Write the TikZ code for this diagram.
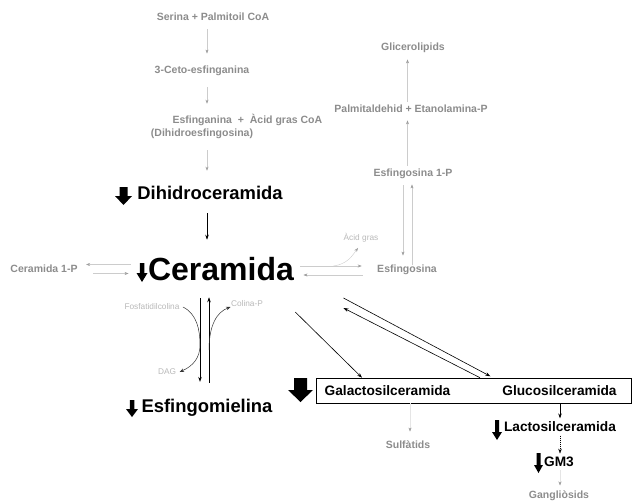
\documentclass[tikz,border=0pt]{standalone}
\usepackage{fontspec}
\setmainfont{Liberation Sans}
\usetikzlibrary{arrows.meta}

\definecolor{chaingray}{HTML}{8C8C8C}
\definecolor{palegray}{HTML}{B8B8B8}

% x, top, length, shaft width, head width, head length
\newcommand{\dropmark}[6]{%
  \fill ({#1-#4/2},#2) -- ({#1+#4/2},#2) -- ({#1+#4/2},{#2+#3-#6}) -- ({#1+#5/2},{#2+#3-#6})
    -- (#1,{#2+#3}) -- ({#1-#5/2},{#2+#3-#6}) -- ({#1-#4/2},{#2+#3-#6}) -- cycle;}

\tikzset{
  minor/.style={text=chaingray, font=\fontsize{10.5}{12}\selectfont\bfseries},
  faint/.style={text=palegray, font=\fontsize{8.3}{10}\selectfont},
  major/.style={font=\fontsize{18.4}{22}\selectfont\bfseries},
  glyco/.style={font=\fontsize{13.7}{16}\selectfont\bfseries},
  greyflow/.style={draw=gray!40, line width=0.4pt, -{Stealth[length=4pt,width=3pt,color=gray!75]}},
  blackflow/.style={draw=black, line width=0.6pt, -{Stealth[length=5pt,width=3.5pt]}},
  thinflow/.style={draw=black!80, line width=0.5pt, -{Stealth[length=4.5pt,width=3.5pt]}},
}

\begin{document}
\begin{tikzpicture}[x=1pt,y=-1pt]
\useasboundingbox (0,0) rectangle (632,503);

\node[minor] (serina) at (213,17) {Serina + Palmitoil CoA};
\node[minor] (keto) at (202,71) {3-Ceto-esfinganina};
\node[minor, anchor=west] (esfin) at (169,120) {Esfinganina \ + \ Àcid gras CoA};
\node[minor] (dhesf) at (202,134) {(Dihidroesfingosina)};
\node[major] (dihidro) at (210,193) {Dihidroceramida};
\node[font=\fontsize{32}{36}\selectfont\bfseries] (cer) at (221,269) {Ceramida};
\node[minor] (cer1p) at (44,269) {Ceramida 1-P};
\node[minor] (esfingosina) at (407,270) {Esfingosina};
\node[faint] (acidgras) at (361,238) {Àcid gras};
\node[minor] (esf1p) at (413,174) {Esfingosina 1-P};
\node[minor] (palm) at (411,109) {Palmitaldehid + Etanolamina-P};
\node[minor] (glic) at (413,48) {Glicerolipids};
\node[faint] (fosf) at (152,307) {Fosfatidilcolina};
\node[faint] (colina) at (247,304) {Colina-P};
\node[faint] (dag) at (167,372) {DAG};
\node[major] (esfm) at (207,408) {Esfingomielina};
\node[draw, line width=0.6pt, minimum width=315, minimum height=25, inner sep=0] (glycobox) at (473.5,390.5) {};
\node[glyco] (galacto) at (387.5,391) {Galactosilceramida};
\node[glyco] (gluco) at (559.5,391) {Glucosilceramida};
\node[glyco] (lacto) at (560,427) {Lactosilceramida};
\node[glyco] (gm3) at (559,462) {GM3};
\node[minor] (sulf) at (408,445) {Sulfàtids};
\node[minor] (gang) at (559,496) {Gangliòsids};

\dropmark{123.5}{187}{18}{8}{17}{9}
\dropmark{142}{263}{19}{4.5}{11}{9}
\dropmark{132}{400}{17}{4.5}{12}{8}
\dropmark{300.5}{378}{24}{13}{25}{12}
\dropmark{497}{420}{20}{4}{10}{8}
\dropmark{538.5}{453}{20}{4}{9}{8}

\coordinate (axL) at (207,0);
\draw[greyflow, shorten <=5pt, shorten >=9pt] (serina.south -| axL) -- (keto.north -| axL);
\draw[greyflow, shorten <=8pt, shorten >=7pt] (keto.south -| axL) -- (esfin.north -| axL);
\draw[greyflow, shorten <=8pt, shorten >=12pt] (dhesf.south -| axL) -- (dihidro.north -| axL);
\draw[blackflow, shorten <=10pt, shorten >=14pt] (dihidro.south -| axL) -- (cer.north -| axL);

\draw[greyflow] ([xshift=-14pt,yshift=4.5pt]cer.west) -- ([xshift=5pt,yshift=4.5pt]cer1p.east);
\draw[greyflow] ([xshift=12pt,yshift=-4.5pt]cer1p.east) -- ([xshift=-16pt,yshift=-4.5pt]cer.west);

\coordinate (fork) at ([xshift=36pt,yshift=3pt]cer.east);
\draw[greyflow] ([xshift=3pt,yshift=3pt]cer.east) -- ([xshift=-12pt,yshift=4pt]esfingosina.west);
\draw[greyflow] ([xshift=-11pt,yshift=-5pt]esfingosina.west) -- ([xshift=6pt,yshift=-6pt]cer.east);
\draw[greyflow] (fork) .. controls +(14,-2) and +(-6,8) .. ([xshift=-3pt,yshift=-2pt]acidgras.south);

\coordinate (axR) at (407.5,0);
\coordinate (axD) at (403,0);
\coordinate (axU) at (412,0);
\draw[greyflow, shorten >=3pt] (palm.north -| axR) -- (glic.south -| axR);
\draw[greyflow, shorten >=4pt] (esf1p.north -| axR) -- (palm.south -| axR);
\draw[greyflow, shorten <=3pt, shorten >=6pt] (esf1p.south -| axD) -- (esfingosina.north -| axD);
\draw[greyflow, shorten <=-3pt, shorten >=2pt] (esfingosina.north -| axU) -- (esf1p.south -| axU);

\coordinate (smD) at (200,0);
\coordinate (smU) at (209,0);
\coordinate (cholfork) at (209,350);
\draw[blackflow, shorten <=14pt, shorten >=14pt] (cer.south -| smD) -- (esfm.north -| smD);
\draw[blackflow, shorten <=13pt, shorten >=13pt] (esfm.north -| smU) -- (cer.south -| smU);
\draw[thinflow] (fosf.east) .. controls (197,314) and (200,330) .. (200,345) .. controls (200,358) and (193,366) .. (dag.east);
\draw[thinflow] (cholfork) .. controls (209,325) and (217,312) .. ([xshift=3pt,yshift=-3pt]colina.west);

\draw[blackflow] ([xshift=-2.2pt,yshift=-43pt]cer.east) -- ([xshift=-111.5pt]glycobox.north);
\draw[blackflow, shorten >=3pt] ([xshift=46pt,yshift=-29pt]cer.east) -- ([xshift=19.5pt]glycobox.north);
\draw[blackflow] ([xshift=6.5pt]glycobox.north) -- ([xshift=46pt,yshift=-39pt]cer.east);

\coordinate (axG) at (560,0);
\coordinate (axS) at (410,0);
\draw[blackflow, shorten <=1pt] (glycobox.south -| axG) -- (lacto.north -| axG);
\draw[blackflow, line width=0.45pt, dash pattern=on 0.8pt off 1.2pt] (lacto.south -| axG) -- (gm3.north -| axG);
\draw[greyflow, draw=gray!20, shorten >=2pt] (gm3.south -| axG) -- (gang.north -| axG);
\draw[greyflow, draw=gray!20, shorten >=6pt] (glycobox.south -| axS) -- (sulf.north -| axS);
\end{tikzpicture}
\end{document}
